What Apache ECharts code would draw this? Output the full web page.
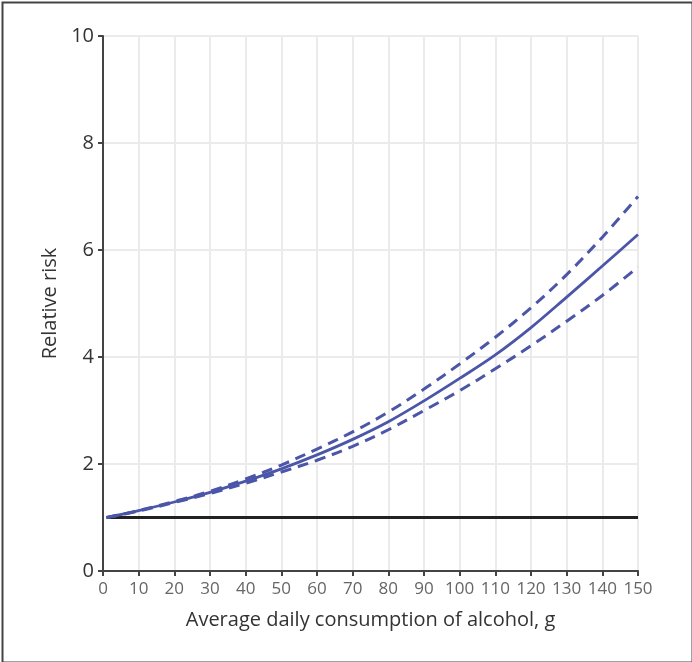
<!DOCTYPE html>
<html>
<head>
<meta charset="utf-8">
<script src="https://cdn.jsdelivr.net/npm/echarts@6/dist/echarts.min.js"></script>
<style>
html,body{margin:0;padding:0;background:#fff;}
#chart{width:692px;height:662px;}
</style>
</head>
<body>
<div id="chart"></div>
<script>
const consumption = [1, 10, 20, 30, 40, 50, 60, 70, 80, 90, 100, 110, 120, 130, 140, 150];
const rrMain  = [1.0, 1.13, 1.29, 1.47, 1.68, 1.91, 2.17, 2.46, 2.79, 3.18, 3.60, 4.04, 4.55, 5.12, 5.70, 6.29];
const rrUpper = [1.0, 1.13, 1.30, 1.49, 1.72, 1.98, 2.28, 2.60, 2.97, 3.40, 3.87, 4.37, 4.92, 5.54, 6.24, 7.0];
const rrLower = [1.0, 1.12, 1.28, 1.45, 1.64, 1.85, 2.07, 2.33, 2.64, 3.00, 3.37, 3.78, 4.21, 4.67, 5.15, 5.68];
const referenceX = [1, 150];
const referenceY = [1, 1];
const xTicks = {min: 0, max: 150, interval: 10};
const yTicks = {min: 0, max: 10, interval: 2};

const pairs = (xs, ys) => xs.map((x, i) => [x, ys[i]]);
const blue = '#4b56a8';
const font = 'Open Sans';

const chart = echarts.init(document.getElementById('chart'), null, {renderer: 'canvas'});
chart.setOption({
  animation: false,
  backgroundColor: '#fff',
  graphic: [{
    type: 'rect', left: 0, top: 0, z: 100,
    shape: {x: 1, y: 1, width: 690, height: 660},
    style: {fill: 'none', stroke: '#444', lineWidth: 2}
  }],
  grid: {left: 103, right: 54, top: 36, bottom: 91},
  xAxis: {
    type: 'value', min: xTicks.min, max: xTicks.max, interval: xTicks.interval,
    name: 'Average daily consumption of alcohol, g',
    nameLocation: 'middle', nameGap: 39,
    nameTextStyle: {fontFamily: font, fontSize: 20, color: '#333'},
    axisLine: {show: true, onZero: false, lineStyle: {color: '#444', width: 2}},
    axisTick: {show: true, length: 5, lineStyle: {color: '#444', width: 2}},
    axisLabel: {fontFamily: font, fontSize: 17, color: '#666', margin: 10},
    splitLine: {show: true, lineStyle: {color: '#ebebeb', width: 2}}
  },
  yAxis: {
    type: 'value', min: yTicks.min, max: yTicks.max, interval: yTicks.interval,
    name: 'Relative risk',
    nameLocation: 'middle', nameGap: 41,
    nameTextStyle: {fontFamily: font, fontSize: 20, color: '#333'},
    axisLine: {show: true, lineStyle: {color: '#444', width: 2}},
    axisTick: {show: true, length: 5, lineStyle: {color: '#444', width: 2}},
    axisLabel: {fontFamily: font, fontSize: 20, color: '#333', margin: 9},
    splitLine: {show: true, lineStyle: {color: '#ebebeb', width: 2}}
  },
  series: [
    {
      type: 'line', data: pairs(referenceX, referenceY), symbol: 'none',
      lineStyle: {color: '#222', width: 3}, z: 3
    },
    {
      type: 'line', data: pairs(consumption, rrUpper), symbol: 'none', smooth: 0.35,
      lineStyle: {color: blue, width: 3, type: [11, 7]}, z: 4
    },
    {
      type: 'line', data: pairs(consumption, rrLower), symbol: 'none', smooth: 0.35,
      lineStyle: {color: blue, width: 3, type: [11, 7]}, z: 4
    },
    {
      type: 'line', data: pairs(consumption, rrMain), symbol: 'none', smooth: 0.35,
      lineStyle: {color: blue, width: 2.8}, z: 5
    }
  ]
});
</script>
</body>
</html>
